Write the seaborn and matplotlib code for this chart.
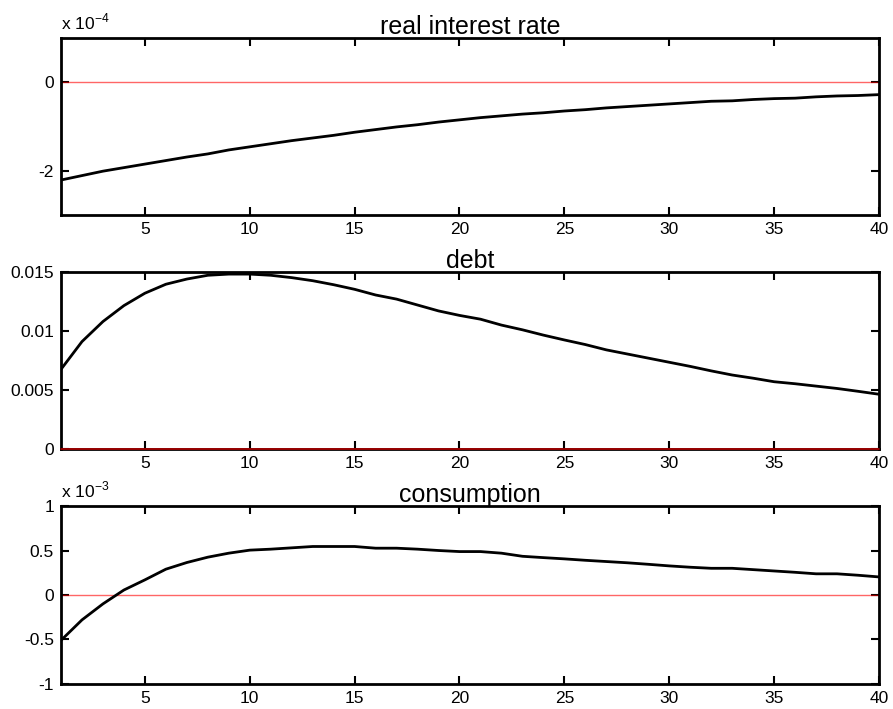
import numpy as np
import pandas as pd
import matplotlib
matplotlib.use("Agg")
import matplotlib.pyplot as plt
import seaborn as sns

periods = list(range(1, 41))

# real interest rate, in units of 1e-4
rate_e4 = [-2.21, -2.11, -2.01, -1.93, -1.85, -1.77, -1.69, -1.62, -1.53, -1.46,
           -1.39, -1.32, -1.26, -1.20, -1.13, -1.07, -1.01, -0.96, -0.90, -0.85,
           -0.80, -0.76, -0.72, -0.69, -0.65, -0.62, -0.58, -0.55, -0.52, -0.49,
           -0.46, -0.43, -0.42, -0.39, -0.37, -0.36, -0.33, -0.31, -0.30, -0.28]

debt = [0.00675, 0.0091, 0.0108, 0.01215, 0.0132, 0.01396, 0.0144, 0.01472, 0.01482, 0.01482,
        0.01472, 0.01452, 0.01426, 0.01392, 0.01353, 0.01305, 0.0127, 0.0122, 0.0117, 0.01132,
        0.0110, 0.0105, 0.0101, 0.00965, 0.00924, 0.00885, 0.0084, 0.00805, 0.0077, 0.00735,
        0.0070, 0.00662, 0.00627, 0.0060, 0.0057, 0.00553, 0.00533, 0.00513, 0.00489, 0.00464]

# consumption, in units of 1e-3
cons_e3 = [-0.51, -0.28, -0.10, 0.056, 0.17, 0.29, 0.365, 0.425, 0.47, 0.504,
           0.515, 0.53, 0.545, 0.545, 0.545, 0.526, 0.526, 0.515, 0.50, 0.488,
           0.488, 0.47, 0.435, 0.42, 0.406, 0.39, 0.376, 0.362, 0.345, 0.327,
           0.312, 0.30, 0.30, 0.285, 0.27, 0.255, 0.238, 0.238, 0.222, 0.203]

titles = ["real interest rate", "debt", "consumption"]
multipliers = [r"x 10$^{-4}$", None, r"x 10$^{-3}$"]
series = [rate_e4, debt, cons_e3]
ylims = [(-3, 1), (0, 0.015), (-1, 1)]
yticks = [[-2, 0], [0, 0.005, 0.01, 0.015], [-1, -0.5, 0, 0.5, 1]]
yticklabels = [["-2", "0"], ["0", "0.005", "0.01", "0.015"], ["-1", "-0.5", "0", "0.5", "1"]]
xticks = [5, 10, 15, 20, 25, 30, 35, 40]

sns.set_style("ticks")
plt.rcParams["font.family"] = ["Liberation Sans", "DejaVu Sans"]
plt.rcParams["axes.unicode_minus"] = False
plt.rcParams["mathtext.fontset"] = "custom"
plt.rcParams["mathtext.rm"] = "Liberation Sans"
plt.rcParams["text.color"] = "black"
plt.rcParams["axes.labelcolor"] = "black"

fig = plt.figure(figsize=(8.93, 7.09), dpi=100)
positions = [
    [0.0683, 0.6968, 0.9160, 0.2496],
    [0.0683, 0.3667, 0.9160, 0.2497],
    [0.0683, 0.0353, 0.9160, 0.2510],
]

for i in range(3):
    ax = fig.add_axes(positions[i])
    df = pd.DataFrame({"t": periods, "v": series[i]})
    zeros = pd.DataFrame({"t": periods, "v": [0.0] * len(periods)})
    if i == 1:
        sns.lineplot(data=zeros, x="t", y="v", ax=ax, color="#b00000", linewidth=1.2,
                     zorder=4, clip_on=False)
    else:
        sns.lineplot(data=zeros, x="t", y="v", ax=ax, color="#ff0000", linewidth=1.0,
                     alpha=0.6, zorder=2)
    sns.lineplot(data=df, x="t", y="v", ax=ax, color="black", linewidth=2.0, zorder=3)
    ax.set_xlim(1, 40)
    ax.set_ylim(*ylims[i])
    ax.set_xticks(xticks)
    ax.set_xticklabels([str(x) for x in xticks])
    ax.set_yticks(yticks[i])
    ax.set_yticklabels(yticklabels[i])
    ax.set_xlabel("")
    ax.set_ylabel("")
    ax.tick_params(direction="in", length=6, width=1.5, labelsize=12.5,
                   top=True, right=True, pad=5, colors="black")
    for s in ax.spines.values():
        s.set_visible(True)
        s.set_linewidth(2.0)
        s.set_color("black")
    ax.set_title(titles[i], fontsize=18, pad=3, color="black")
    if multipliers[i]:
        ax.text(0.0, 1.03, multipliers[i], transform=ax.transAxes, fontsize=12.5,
                ha="left", va="bottom", color="black")

fig.savefig("out.png", dpi=100)
